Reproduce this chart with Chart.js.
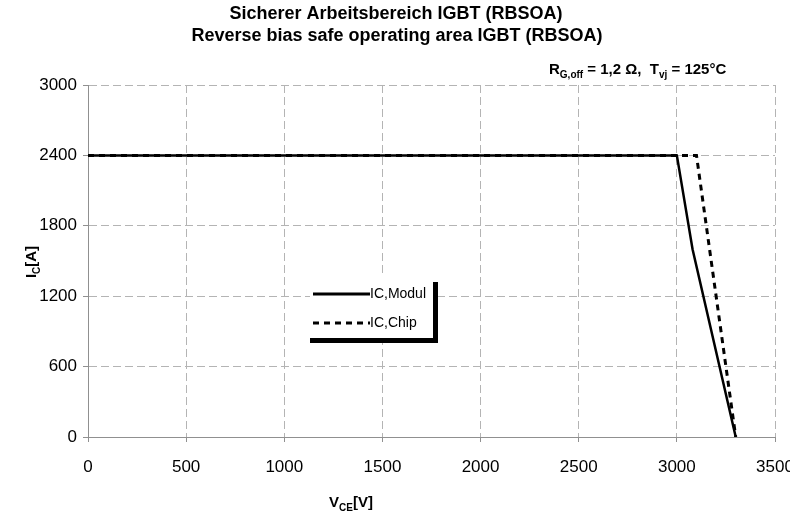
<!DOCTYPE html>
<html>
<head>
<meta charset="utf-8">
<script src="https://cdn.jsdelivr.net/npm/chart.js@4"></script>
<style>
  html, body { margin: 0; padding: 0; background: #fff; }
  #wrap { width: 790px; height: 515px; }
</style>
</head>
<body>
<div id="wrap"><canvas id="rbsoa" width="790" height="515"></canvas></div>
<script>
// === Data ===
const moduleV = [0, 3000, 3080, 3300];
const moduleI = [2400, 2400, 1600, 0];
const chipV = [0, 3100, 3300];
const chipI = [2400, 2400, 0];
const xTicks = [0, 500, 1000, 1500, 2000, 2500, 3000, 3500];
const yTicks = [0, 600, 1200, 1800, 2400, 3000];
const seriesLabels = ["IC,Modul", "IC,Chip"];

const FONT = "'Liberation Sans', Arial, sans-serif";

const toPoints = (xs, ys) => xs.map((x, i) => ({ x, y: ys[i] }));

// draws text made of normal + subscript parts
function richText(ctx, parts, x, y, size, align) {
  const subSize = Math.round(size * 0.66);
  let total = 0;
  parts.forEach((p) => {
    ctx.font = `bold ${p.sub ? subSize : size}px ${FONT}`;
    p.w = ctx.measureText(p.t).width;
    total += p.w;
  });
  let cx = align === "center" ? x - total / 2 : x;
  ctx.textAlign = "left";
  ctx.textBaseline = "alphabetic";
  parts.forEach((p) => {
    ctx.font = `bold ${p.sub ? subSize : size}px ${FONT}`;
    ctx.fillText(p.t, cx, p.sub ? y + size * 0.25 : y);
    cx += p.w;
  });
}

// === Texts + legend box ===
const decorPlugin = {
  id: "decor",
  afterDatasetsDraw(chart) {
    const ctx = chart.ctx;
    ctx.save();
    ctx.fillStyle = "#000";

    // title
    ctx.font = `bold 18px ${FONT}`;
    ctx.textAlign = "center";
    ctx.textBaseline = "middle";
    ctx.fillText("Sicherer Arbeitsbereich IGBT (RBSOA)", 396, 14);
    ctx.fillText("Reverse bias safe operating area IGBT (RBSOA)", 397, 36);

    // conditions
    richText(ctx, [
      { t: "R" }, { t: "G,off", sub: true }, { t: " = 1,2 \u03A9,  T" },
      { t: "vj", sub: true }, { t: " = 125°C" },
    ], 549, 74, 15, "left");

    // axis titles
    richText(ctx, [{ t: "V" }, { t: "CE", sub: true }, { t: "[V]" }], 351, 507, 15, "center");
    ctx.save();
    ctx.translate(36, 262);
    ctx.rotate(-Math.PI / 2);
    richText(ctx, [{ t: "I" }, { t: "C", sub: true }, { t: "[A]" }], 0, 0, 15, "center");
    ctx.restore();

    // legend box with shadow on right/bottom
    ctx.fillStyle = "#fff";
    ctx.fillRect(310, 277, 124, 62);
    ctx.fillStyle = "#000";
    ctx.fillRect(433, 282, 5, 61);
    ctx.fillRect(310, 338, 128, 5);

    const rows = [294, 323];
    chart.data.datasets.forEach((ds, i) => {
      ctx.beginPath();
      ctx.lineWidth = 3;
      ctx.strokeStyle = ds.borderColor;
      ctx.setLineDash(ds.borderDash || []);
      ctx.moveTo(313, rows[i]);
      ctx.lineTo(370, rows[i]);
      ctx.stroke();
      ctx.setLineDash([]);
      ctx.font = `14px ${FONT}`;
      ctx.textAlign = "left";
      ctx.textBaseline = "middle";
      ctx.fillText(ds.label, 370, rows[i]);
    });
    ctx.restore();
  },
};

// === Chart ===
const gridColor = "#b4b4b4";
const plain = (v) => String(v);
const chart = new Chart(document.getElementById("rbsoa"), {
  type: "line",
  data: {
    datasets: [
      {
        label: seriesLabels[0],
        data: toPoints(moduleV, moduleI),
        borderColor: "#000",
        borderWidth: 2.5,
        pointRadius: 0,
        tension: 0,
      },
      {
        label: seriesLabels[1],
        data: toPoints(chipV, chipI),
        borderColor: "#000",
        borderWidth: 3,
        borderDash: [6, 5],
        pointRadius: 0,
        tension: 0,
      },
    ],
  },
  options: {
    responsive: false,
    devicePixelRatio: 1,
    animation: false,
    layout: { padding: { top: 85, right: 15, left: 0, bottom: 0 } },
    plugins: { legend: { display: false }, tooltip: { enabled: false }, title: { display: false } },
    scales: {
      x: {
        type: "linear",
        min: xTicks[0],
        max: xTicks[xTicks.length - 1],
        afterBuildTicks: (s) => { s.ticks = xTicks.map((v) => ({ value: v })); },
        afterFit: (s) => { s.height = 78; s.paddingLeft = 0; s.paddingRight = 0; },
        grid: { color: gridColor, tickLength: 5, tickColor: "#909090" },
        border: { color: "#909090", dash: [8, 4] },
        ticks: { color: "#000", padding: 15, maxRotation: 0, callback: plain, font: { family: FONT, size: 17 } },
      },
      y: {
        min: yTicks[0],
        max: yTicks[yTicks.length - 1],
        afterBuildTicks: (s) => { s.ticks = yTicks.map((v) => ({ value: v })); },
        afterFit: (s) => { s.width = 88; },
        grid: { color: gridColor, tickLength: 5, tickColor: "#909090" },
        border: { color: "#909090", dash: [8, 4] },
        ticks: { color: "#000", padding: 6, callback: plain, font: { family: FONT, size: 17 } },
      },
    },
  },
  plugins: [decorPlugin],
});
</script>
</body>
</html>
